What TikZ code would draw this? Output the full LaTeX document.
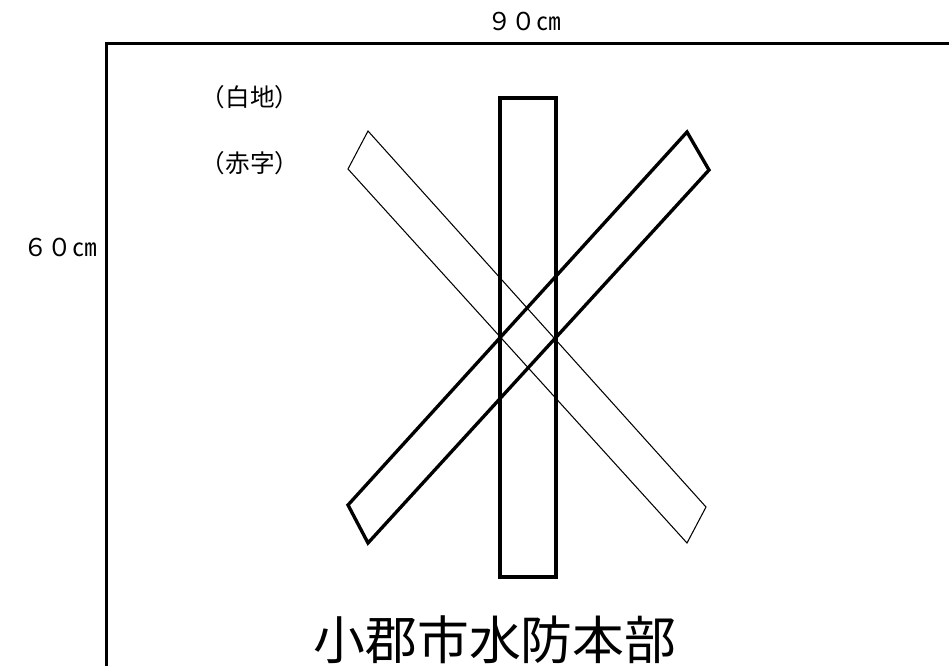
\documentclass[tikz,border=0pt]{standalone}
\usepackage{fontspec}
\usepackage{tikz}
\newfontfamily\jpfont{Noto Sans CJK JP}

\tikzset{
  label/.style = {font=\jpfont\fontsize{14pt}{14pt}\selectfont, inner sep=0pt},
  title/.style = {font=\jpfont\fontsize{29.5pt}{29.5pt}\selectfont, inner sep=0pt},
}

\begin{document}
\begin{tikzpicture}
  [x = .02cm, y = -.02cm, line join = miter]
  \useasboundingbox (0,0) rectangle (949,666);
  % board outline, cut by the page edges
  \draw[line width = 1.2pt] (106.5,666) -- (106.5,43.5) -- (949,43.5);
  % vertical bar
  \draw[line width = 1.9pt] (500,98) rectangle (556,577);
  % thin bar, top left to bottom right
  \draw[line width = .6pt] (368,131) -- (706,507) -- (687,543) -- (348,169) -- cycle;
  % thick bar, top right to bottom left
  \draw[line width = 1.9pt] (687,132) -- (709,170) -- (368,543) -- (348,505) -- cycle;
  \node[label] (width) at (524,21) {９０㎝};
  \node[label] (height) at (60,247) {６０㎝};
  \node[label] (ground) at (250,97) {（白地）};
  \node[label] (letters) at (250,163) {（赤字）};
  \node[title] (name) at (495,640) {小郡市水防本部};
\end{tikzpicture}
\end{document}
